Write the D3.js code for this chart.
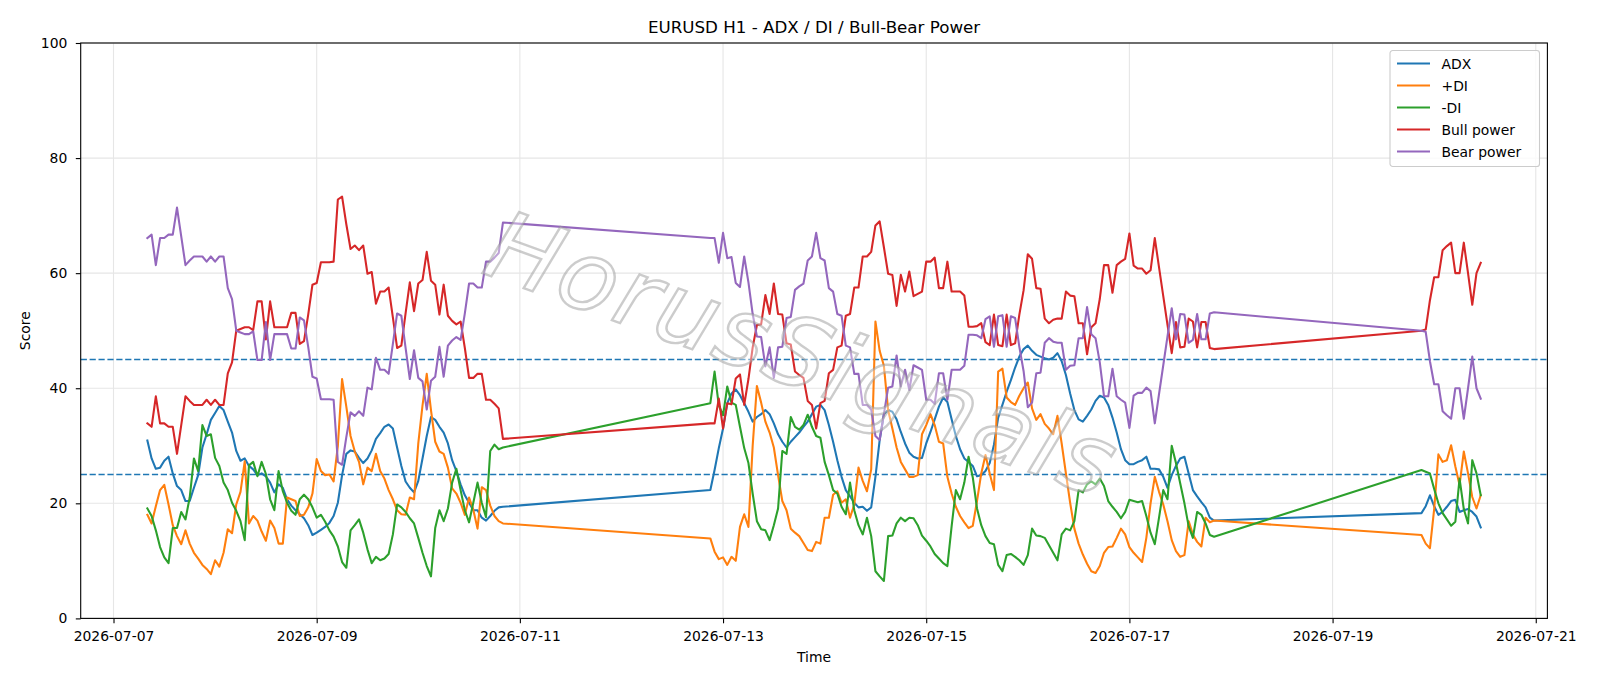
<!DOCTYPE html>
<meta charset="utf-8">
<style>
  body { margin: 0; background: #fff; }
  text { font-family: "DejaVu Sans", sans-serif; }
</style>
<script src="https://cdn.jsdelivr.net/npm/d3@7"></script>
<div id="chart"></div>
<script>
// Hourly trading sessions (UTC): first bar and number of bars
const sessionStarts = ["2026-07-07T08:00:00Z", "2026-07-12T21:00:00Z", "2026-07-19T21:00:00Z"];
const sessionBars = [85, 120, 15];

const adx = [
  30.9, 27.8, 26.0, 26.2, 27.4, 28.1, 25.2, 23.0, 22.3, 20.4,
  20.4, 22.7, 24.9, 29.7, 32.0, 34.5, 35.7, 36.9, 36.2, 34.2,
  32.3, 29.1, 27.4, 27.8, 26.5, 25.9, 24.9, 25.2, 24.7, 23.6,
  21.9, 23.3, 22.7, 20.7, 19.6, 18.8, 18.1, 17.4, 16.2, 14.5,
  14.9, 15.4, 15.9, 16.6, 17.8, 20.1, 24.9, 28.6, 29.2, 29.0,
  27.9, 27.0, 27.8, 29.2, 31.2, 32.2, 33.3, 33.7, 33.0, 29.7,
  26.5, 23.8, 22.7, 21.9, 23.9, 27.8, 31.7, 35.0, 34.5, 33.3,
  32.3, 30.4, 27.5, 25.6, 23.3, 21.4, 20.1, 18.8, 18.8, 17.5,
  17.0, 17.8, 18.7, 19.3, 19.4,
  22.3, 25.8, 29.6, 33.0, 37.4, 39.1, 39.8, 38.8, 37.4, 35.9,
  34.2, 35.0, 35.5, 36.2, 35.5, 33.9, 32.0, 30.7, 29.7, 30.7,
  31.5, 32.3, 33.3, 34.2, 35.5, 36.8, 37.1, 36.2, 33.6, 30.7,
  27.5, 24.6, 22.3, 21.2, 20.1, 19.3, 19.4, 18.7, 19.3, 24.6,
  31.0, 35.5, 36.2, 35.9, 34.6, 32.4, 30.4, 28.8, 28.1, 27.8,
  27.9, 30.4, 32.4, 34.6, 36.8, 38.4, 37.6, 34.6, 31.7, 29.4,
  27.8, 27.2, 26.5, 24.7, 24.9, 25.6, 27.0, 30.2, 34.9, 37.1,
  39.4, 41.4, 43.6, 45.5, 46.8, 47.4, 46.5, 45.8, 45.5, 45.2,
  45.0, 45.3, 46.1, 44.7, 42.3, 39.1, 36.2, 34.6, 34.2, 35.2,
  36.3, 37.8, 38.7, 38.4, 37.1, 34.9, 32.3, 29.4, 27.5, 26.8,
  26.8, 27.2, 27.5, 28.1, 26.0, 26.0, 25.9, 24.6, 22.7, 24.9,
  26.5, 27.8, 28.1, 25.2, 22.3, 21.2, 20.2, 19.3, 17.5, 17.0,
  18.3, 19.5, 21.4, 19.5, 18.0, 18.5, 19.4, 20.4, 20.6, 18.5,
  18.8, 19.0, 18.5, 17.7, 15.8
];

const plusDI = [
  18.0, 16.5, 19.5, 22.3, 23.2, 19.8, 16.2, 14.3, 12.9, 15.3,
  13.0, 11.4, 10.4, 9.3, 8.6, 7.7, 10.1, 9.0, 11.4, 15.5,
  14.8, 19.8, 22.0, 27.3, 16.5, 17.8, 17.0, 15.1, 13.5, 17.0,
  15.7, 13.0, 13.0, 21.0, 20.7, 20.4, 17.8, 18.0, 19.3, 21.7,
  27.7, 25.6, 24.9, 25.0, 23.8, 30.0, 41.6, 36.8, 31.7, 29.0,
  27.2, 23.3, 26.2, 25.6, 28.6, 25.6, 24.3, 22.3, 20.7, 18.8,
  18.1, 18.0, 21.0, 20.7, 30.4, 37.0, 42.5, 36.2, 30.7, 29.0,
  28.6, 26.2, 22.6, 21.7, 20.1, 18.0, 21.0, 18.9, 15.6, 22.8,
  22.3, 19.6, 17.8, 16.9, 16.5,
  13.9, 11.6, 10.3, 10.6, 9.3, 10.7, 10.0, 15.9, 18.1, 15.9,
  30.0, 40.4, 37.5, 34.2, 32.3, 29.7, 24.9, 20.4, 18.8, 15.6,
  14.9, 14.3, 13.1, 11.9, 11.7, 13.3, 13.0, 17.5, 17.5, 21.5,
  22.1, 20.1, 20.7, 17.5, 19.8, 26.2, 23.9, 22.1, 25.9, 51.6,
  46.5, 43.9, 36.2, 33.0, 29.7, 27.2, 25.9, 24.6, 24.6, 24.9,
  32.0, 33.6, 35.5, 33.6, 30.7, 30.4, 24.6, 21.7, 19.4, 17.8,
  16.7, 15.7, 16.1, 20.4, 25.2, 28.4, 25.2, 22.3, 42.9, 43.4,
  38.4, 37.6, 37.1, 38.7, 40.0, 41.0, 36.5, 34.5, 35.5, 33.8,
  33.0, 32.0, 35.2, 30.4, 25.2, 20.1, 15.6, 13.0, 11.1, 9.5,
  8.2, 7.9, 9.1, 11.4, 12.4, 12.5, 14.0, 15.6, 14.6, 12.4,
  11.4, 10.6, 9.8, 14.0, 20.0, 24.6, 22.0, 19.8, 16.9, 13.6,
  11.7, 10.7, 11.0, 16.9, 14.6, 13.3, 12.5, 17.5, 16.7, 17.0,
  14.5, 13.0, 12.2, 19.0, 28.5, 27.2, 27.5, 30.1, 26.4, 23.2,
  29.0, 25.2, 21.1, 19.1, 21.4
];

const minusDI = [
  19.1, 17.8, 15.3, 12.4, 10.6, 9.6, 15.7, 15.7, 18.5, 17.2,
  21.0, 27.8, 25.6, 33.6, 31.7, 32.0, 27.9, 26.5, 23.6, 22.3,
  20.1, 18.7, 16.9, 13.6, 26.6, 27.2, 24.7, 27.2, 25.1, 20.7,
  18.8, 25.6, 22.1, 20.1, 18.7, 18.0, 20.7, 21.5, 20.7, 19.3,
  17.5, 18.0, 16.8, 15.3, 14.2, 12.5, 9.8, 8.8, 15.3, 16.2,
  17.2, 14.9, 12.0, 9.6, 10.7, 10.1, 10.4, 11.2, 14.6, 19.8,
  19.3, 18.5, 17.4, 16.5, 14.0, 11.4, 9.1, 7.3, 15.7, 18.8,
  16.9, 19.1, 23.6, 26.0, 22.3, 18.8, 16.7, 20.1, 23.6, 20.1,
  17.6, 29.1, 30.2, 29.4, 29.7,
  37.4, 42.9, 37.0, 35.3, 40.3, 37.5, 37.1, 33.3, 29.6, 27.0,
  21.7, 16.9, 15.5, 15.3, 13.6, 16.2, 19.1, 29.1, 28.6, 35.0,
  33.3, 32.8, 33.6, 35.4, 33.3, 31.7, 31.4, 27.2, 24.9, 22.3,
  21.7, 19.4, 18.1, 23.6, 18.8, 16.2, 14.6, 17.5, 14.3, 8.2,
  7.3, 6.5, 14.3, 14.4, 16.5, 17.5, 16.9, 17.5, 17.4, 16.2,
  14.4, 13.5, 12.5, 11.2, 10.4, 9.6, 9.1, 16.0, 22.3, 20.7,
  23.6, 28.1, 24.5, 19.1, 16.2, 14.3, 13.1, 12.9, 9.3, 8.2,
  11.0, 11.2, 10.7, 10.1, 9.3, 11.0, 15.6, 14.4, 14.3, 14.0,
  12.7, 11.4, 10.1, 14.6, 15.6, 15.3, 16.9, 22.3, 21.9, 23.3,
  23.8, 23.3, 24.3, 23.0, 20.4, 19.4, 18.5, 17.4, 18.5, 20.6,
  20.4, 20.2, 20.4, 17.8, 14.9, 12.9, 17.5, 22.3, 20.7, 30.0,
  27.0, 23.5, 20.0, 16.0, 14.0, 18.5, 18.0, 16.5, 14.5, 14.2,
  25.8, 25.5, 25.2, 22.5, 20.0, 18.3, 17.2, 16.1, 16.8, 24.3,
  19.0, 16.5, 27.5, 25.2, 21.4
];

const bullPower = [
  33.9, 33.3, 38.6, 33.9, 33.9, 33.3, 33.3, 28.6, 33.6, 38.6,
  37.8, 37.1, 37.1, 37.1, 38.0, 37.1, 38.0, 37.1, 37.1, 42.6,
  44.5, 50.0, 50.3, 50.6, 50.6, 50.1, 55.1, 55.1, 48.5, 55.1,
  50.6, 50.6, 50.6, 50.6, 53.1, 53.1, 47.7, 48.2, 52.8, 58.0,
  58.3, 61.9, 61.9, 61.9, 62.0, 72.8, 73.3, 68.5, 64.2, 64.8,
  64.0, 64.8, 59.9, 60.2, 54.7, 56.8, 56.8, 57.5, 52.3, 47.0,
  47.4, 53.0, 58.4, 53.4, 58.2, 58.8, 63.7, 58.7, 58.0, 52.8,
  58.0, 52.6, 51.7, 51.1, 51.6, 47.0, 41.8, 41.8, 42.5, 42.5,
  38.0, 38.0, 37.3, 36.5, 31.2,
  33.9, 33.9, 38.2, 33.0, 37.4, 37.2, 41.7, 42.4, 37.1, 41.6,
  47.1, 51.0, 51.1, 56.2, 52.9, 58.2, 52.9, 52.8, 47.8, 47.6,
  42.9, 42.3, 41.8, 37.8, 37.1, 33.0, 37.4, 37.8, 42.6, 43.2,
  47.1, 47.4, 52.6, 52.9, 57.5, 57.5, 62.9, 62.9, 63.7, 68.3,
  69.0, 64.5, 59.9, 59.7, 54.3, 59.7, 56.8, 60.3, 56.0, 56.4,
  56.8, 62.0, 62.0, 62.7, 57.4, 57.4, 62.0, 56.8, 56.8, 56.8,
  56.1, 50.7, 50.7, 50.8, 51.3, 48.0, 47.5, 52.8, 47.5, 47.3,
  52.8, 47.5, 47.8, 52.8, 57.0, 63.3, 62.5, 57.4, 57.3, 52.1,
  51.3, 51.9, 52.1, 52.1, 56.8, 56.1, 56.0, 51.3, 51.3, 45.9,
  50.6, 51.3, 55.5, 61.4, 61.4, 56.6, 61.4, 62.0, 62.5, 66.9,
  61.3, 60.8, 60.8, 59.9, 60.5, 66.1, 61.0, 56.0, 51.0, 46.1,
  51.5, 47.1, 47.2, 52.1, 51.6, 47.1, 51.5, 51.5, 47.0, 46.8,
  50.0, 50.2, 55.3, 59.3, 59.3, 64.0, 64.7, 65.3, 60.0, 60.0,
  65.3, 60.0, 54.5, 60.0, 61.8
];

const bearPower = [
  66.1, 66.7, 61.4, 66.1, 66.1, 66.7, 66.7, 71.4, 66.4, 61.4,
  62.2, 62.9, 62.9, 62.9, 62.0, 62.9, 62.0, 62.9, 62.9, 57.4,
  55.5, 50.0, 49.7, 49.4, 49.4, 49.9, 44.9, 44.9, 51.5, 44.9,
  49.4, 49.4, 49.4, 49.4, 46.9, 46.9, 52.3, 51.8, 47.2, 42.0,
  41.7, 38.1, 38.1, 38.1, 38.0, 27.2, 26.7, 31.5, 35.8, 35.2,
  36.0, 35.2, 40.1, 39.8, 45.3, 43.2, 43.2, 42.5, 47.7, 53.0,
  52.6, 47.0, 41.6, 46.6, 41.8, 41.2, 36.3, 41.3, 42.0, 47.2,
  42.0, 47.4, 48.3, 48.9, 48.4, 53.0, 58.2, 58.2, 57.5, 57.5,
  62.0, 62.0, 62.7, 63.5, 68.8,
  66.1, 66.1, 61.8, 67.0, 62.6, 62.8, 58.3, 57.6, 62.9, 58.4,
  52.9, 49.0, 48.9, 43.8, 47.1, 41.8, 47.1, 47.2, 52.2, 52.4,
  57.1, 57.7, 58.2, 62.2, 62.9, 67.0, 62.6, 62.2, 57.4, 56.8,
  52.9, 52.6, 47.4, 47.1, 42.5, 42.5, 37.1, 37.1, 36.3, 31.7,
  31.0, 35.5, 40.1, 40.3, 45.7, 40.3, 43.2, 39.7, 44.0, 43.6,
  43.2, 38.0, 38.0, 37.3, 42.6, 42.6, 38.0, 43.2, 43.2, 43.2,
  43.9, 49.3, 49.3, 49.2, 48.7, 52.0, 52.5, 47.2, 52.5, 52.7,
  47.2, 52.5, 52.2, 47.2, 43.0, 36.7, 37.5, 42.6, 42.7, 47.9,
  48.7, 48.1, 47.9, 47.9, 43.2, 43.9, 44.0, 48.7, 48.7, 54.1,
  49.4, 48.7, 44.5, 38.6, 38.6, 43.4, 38.6, 38.0, 37.5, 33.1,
  38.7, 39.2, 39.2, 40.1, 39.5, 33.9, 39.0, 44.0, 49.0, 53.9,
  48.5, 52.9, 52.8, 47.9, 48.4, 52.9, 48.5, 48.5, 53.0, 53.2,
  50.0, 49.8, 44.7, 40.7, 40.7, 36.0, 35.3, 34.7, 40.0, 40.0,
  34.7, 40.0, 45.5, 40.0, 38.2
];

const seriesNames = ["ADX", "+DI", "-DI", "Bull power", "Bear power"];
const seriesColors = ["#1f77b4", "#ff7f0e", "#2ca02c", "#d62728", "#9467bd"];
const levels = [45, 25];
const yTicks = [0, 20, 40, 60, 80, 100];
const xTickDays = ["2026-07-07", "2026-07-09", "2026-07-11", "2026-07-13",
                   "2026-07-15", "2026-07-17", "2026-07-19", "2026-07-21"];

// hourly timestamps for every bar
const times = [];
sessionStarts.forEach((s, i) => {
  const t0 = new Date(s);
  for (let k = 0; k < sessionBars[i]; k++) times.push(d3.utcHour.offset(t0, k));
});

const series = [adx, plusDI, minusDI, bullPower, bearPower].map((vals, i) => ({
  name: seriesNames[i],
  color: seriesColors[i],
  values: vals.map((v, j) => ({t: times[j], v: v}))
}));

const W = 1600, H = 686;
const margin = {top: 43, right: 52.6, bottom: 67.6, left: 80.7};
const width = W - margin.left - margin.right,
      height = H - margin.top - margin.bottom;

const svg = d3.select("#chart").append("svg")
  .attr("width", W).attr("height", H)
  .style("display", "block");
svg.append("rect").attr("width", W).attr("height", H).attr("fill", "#fff");

const g = svg.append("g").attr("transform", `translate(${margin.left},${margin.top})`);

// x domain gets matplotlib's 5% margins
const t0 = times[0], t1 = times[times.length - 1];
const pad = (t1 - t0) * 0.05;
const x = d3.scaleUtc()
  .domain([new Date(+t0 - pad), new Date(+t1 + pad)])
  .range([0, width]);
const y = d3.scaleLinear().domain([0, 100]).range([height, 0]);

const xTicks = xTickDays.map(d => new Date(d + "T00:00:00Z"));

// grid
g.append("g").selectAll("line").data(xTicks).join("line")
  .attr("x1", d => x(d)).attr("x2", d => x(d))
  .attr("y1", 0).attr("y2", height)
  .attr("stroke", "#e6e6e6").attr("stroke-width", 1.1);
g.append("g").selectAll("line").data(yTicks).join("line")
  .attr("x1", 0).attr("x2", width)
  .attr("y1", d => y(d)).attr("y2", d => y(d))
  .attr("stroke", "#e6e6e6").attr("stroke-width", 1.1);

// reference levels
g.append("g").selectAll("line").data(levels).join("line")
  .attr("x1", 0).attr("x2", width)
  .attr("y1", d => y(d)).attr("y2", d => y(d))
  .attr("stroke", "#1f77b4").attr("stroke-width", 1.4)
  .attr("stroke-dasharray", "6.2,2.7");

// series
const line = d3.line().x(d => x(d.t)).y(d => y(d.v));
g.append("g").selectAll("path").data(series).join("path")
  .attr("d", d => line(d.values))
  .attr("fill", "none")
  .attr("stroke", d => d.color)
  .attr("stroke-width", 2.08)
  .attr("stroke-linejoin", "round")
  .attr("stroke-linecap", "square");

// watermark
svg.append("text")
  .attr("transform", "translate(790,385) rotate(20)")
  .attr("text-anchor", "middle")
  .attr("font-size", 96)
  .attr("font-style", "italic")
  .attr("textLength", 660)
  .attr("lengthAdjust", "spacing")
  .attr("fill", "#ffffff").attr("fill-opacity", 0.4)
  .attr("stroke", "#9a9a9a").attr("stroke-opacity", 0.5)
  .attr("stroke-width", 2.4)
  .text("HorusSignals");

// axes
const xAxis = g.append("g")
  .attr("transform", `translate(0,${height})`)
  .call(d3.axisBottom(x).tickValues(xTicks).tickFormat(d3.utcFormat("%Y-%m-%d"))
    .tickSize(4.9).tickPadding(7.5).tickSizeOuter(0));
const yAxis = g.append("g")
  .call(d3.axisLeft(y).tickValues(yTicks).tickSize(4.9).tickPadding(8.5).tickSizeOuter(0));
[xAxis, yAxis].forEach(a => {
  a.select(".domain").remove();
  a.selectAll(".tick line").attr("stroke", "#000").attr("stroke-width", 1.1);
  a.selectAll(".tick text").attr("font-size", 13.9).attr("fill", "#000")
    .attr("font-family", "DejaVu Sans, sans-serif");
});

// frame
g.append("rect").attr("width", width).attr("height", height)
  .attr("fill", "none").attr("stroke", "#000").attr("stroke-width", 1.1);

// labels
svg.append("text").attr("x", margin.left + width / 2).attr("y", 33)
  .attr("text-anchor", "middle").attr("font-size", 16.7)
  .text("EURUSD H1 - ADX / DI / Bull-Bear Power");
svg.append("text").attr("x", margin.left + width / 2).attr("y", 662)
  .attr("text-anchor", "middle").attr("font-size", 13.9).text("Time");
svg.append("text").attr("transform", `translate(30,${margin.top + height / 2}) rotate(-90)`)
  .attr("text-anchor", "middle").attr("font-size", 13.9).text("Score");

// legend
const lg = svg.append("g").attr("transform", "translate(1390,50.5)");
lg.append("rect").attr("width", 149.5).attr("height", 116)
  .attr("rx", 2.8).attr("fill", "#fff").attr("fill-opacity", 0.8)
  .attr("stroke", "#cccccc").attr("stroke-width", 1.1);
const item = lg.selectAll("g.item").data(series).join("g")
  .attr("class", "item")
  .attr("transform", (d, i) => `translate(0,${13 + i * 22})`);
item.append("line").attr("x1", 7).attr("x2", 40)
  .attr("stroke", d => d.color).attr("stroke-width", 2.08);
item.append("text").attr("x", 51.5).attr("y", 5)
  .attr("font-size", 13.9).text(d => d.name);
</script>
